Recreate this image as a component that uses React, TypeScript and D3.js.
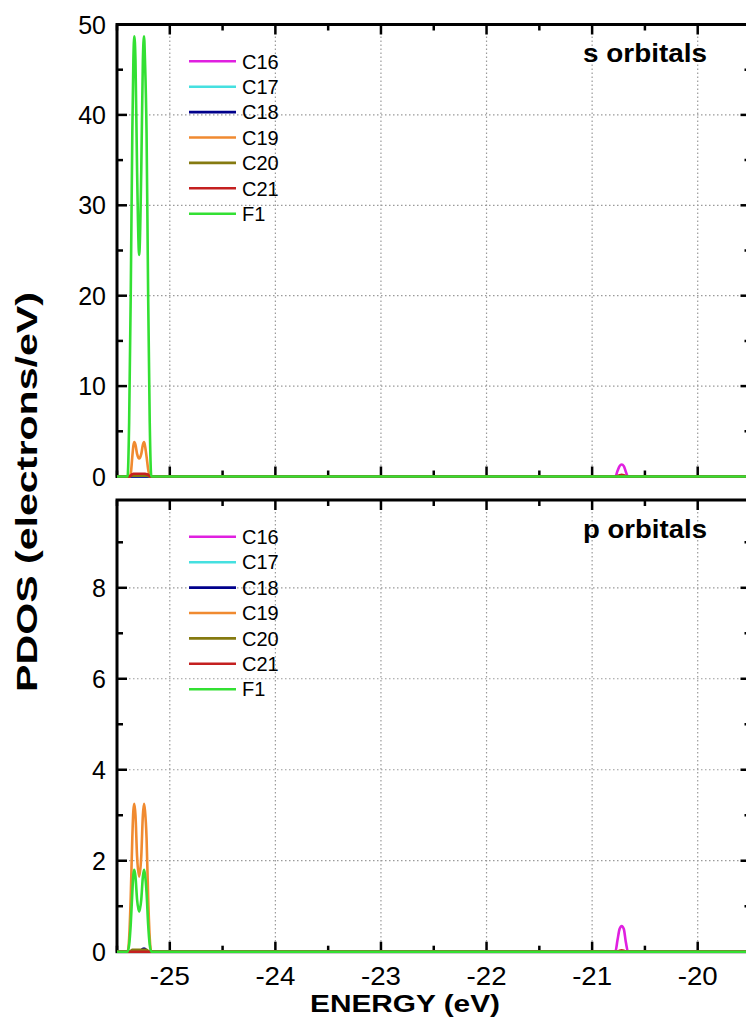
import React from "react";
import * as d3 from "d3";

// ---------- DATA ----------
const seriesNames = ["C16", "C17", "C18", "C19", "C20", "C21", "F1"];
const seriesColors = ["#e020e0", "#45e0e0", "#00008b", "#f08a30", "#857a10", "#c42020", "#33e033"];

const energy = [
  -25.5, -25.4, -25.385, -25.37, -25.355, -25.345, -25.336, -25.325, -25.31, -25.29,
  -25.27, -25.255, -25.244, -25.235, -25.22, -25.205, -25.19, -25.175, -25.16,
  -20.8, -20.78, -20.76, -20.74, -20.72, -20.7, -20.68, -20.66, -20.64, -19.5,
];

// s orbitals
const sC16 = [0,0,0,0,0,0,0,0,0,0, 0,0,0,0,0,0,0,0,0, 0,0,0.6,1.15,1.33,1.15,0.5,0,0,0];
const sC17 = [0,0,0,0,0,0,0,0,0,0, 0,0,0,0,0,0,0,0,0, 0,0,0,0,0,0,0,0,0,0];
const sC18 = [0,0,0,0,0,0,0,0,0,0, 0,0,0,0,0,0,0,0,0, 0,0,0,0,0,0,0,0,0,0];
const sC19 = [0,0,0,0.3,2.2,3.4,3.8,3.5,2.5,2.0, 2.5,3.5,3.8,3.4,2.2,0.8,0.1,0,0, 0,0,0,0.05,0.08,0.05,0,0,0,0];
const sC20 = [0,0,0,0.05,0.1,0.1,0.1,0.1,0.1,0.1, 0.1,0.1,0.1,0.1,0.1,0.05,0,0,0, 0,0,0,0,0,0,0,0,0,0];
const sC21 = [0,0,0,0.1,0.25,0.3,0.3,0.3,0.3,0.3, 0.3,0.3,0.3,0.3,0.25,0.2,0.05,0,0, 0,0,0.05,0.15,0.2,0.15,0.05,0,0,0];
const sF1 = [0,0,6,20,38,46,48.7,46,34,24.5, 34,46,48.7,46,38,20,6,0,0, 0,0,0,0,0,0,0,0,0,0];

// p orbitals
const pC16 = [0,0,0,0,0,0,0,0,0,0, 0,0,0,0,0,0,0,0,0, 0,0,0.25,0.5,0.565,0.5,0.2,0,0,0];
const pC17 = [0,0,0,0,0,0,0,0,0,0, 0,0,0,0,0,0,0,0,0, 0,0,0,0,0,0,0,0,0,0];
const pC18 = [0,0,0,0,0,0,0,0,0,0, 0.03,0.06,0.07,0.06,0.03,0,0,0,0, 0,0,0,0,0,0,0,0,0,0];
const pC19 = [0,0,0.3,1.2,2.5,3.1,3.25,3.0,2.1,1.65, 2.1,3.0,3.25,3.1,2.5,1.2,0.3,0,0, 0,0,0,0,0,0,0,0,0,0];
const pC20 = [0,0,0,0.02,0.04,0.04,0.04,0.04,0.04,0.04, 0.04,0.04,0.04,0.04,0.04,0.02,0,0,0, 0,0,0,0,0,0,0,0,0,0];
const pC21 = [0,0,0,0,0,0,0,0,0,0, 0,0,0,0,0,0,0,0,0, 0,0,0,0.02,0.03,0.02,0,0,0,0];
const pF1 = [0,0,0.15,0.6,1.3,1.7,1.8,1.65,1.15,0.88, 1.15,1.65,1.8,1.7,1.3,0.6,0.15,0,0, 0,0,0,0,0,0,0,0,0,0];

const xMajorTicks = [-25, -24, -23, -22, -21, -20];
const xMinorTicks = [-25.5, -24.5, -23.5, -22.5, -21.5, -20.5, -19.5];
const sYMajor = [0, 10, 20, 30, 40, 50];
const sYMinor = [5, 15, 25, 35, 45];
const pYMajor = [0, 2, 4, 6, 8];
const pYMinor = [1, 3, 5, 7, 9];

// ---------- LAYOUT ----------
const W = 746;
const H = 1023;
const xLeft = 117;
const xRight = 750.5;
const FONT = "'Liberation Sans', Arial, Helvetica, sans-serif";

const x = d3.scaleLinear().domain([-25.5, -19.5]).range([xLeft, xRight]);

const panels = [
  { label: "s orbitals", yMax: 50, top: 24.5, bottom: 476.5, major: sYMajor, minor: sYMinor,
    series: [sC16, sC17, sC18, sC19, sC20, sC21, sF1], showX: false },
  { label: "p orbitals", yMax: 9.93, top: 500, bottom: 951.7, major: pYMajor, minor: pYMinor,
    series: [pC16, pC17, pC18, pC19, pC20, pC21, pF1], showX: true },
];

function Panel({ p }: { p: typeof panels[number] }) {
  const y = d3.scaleLinear().domain([0, p.yMax]).range([p.bottom, p.top]);
  const line = d3
    .line<number>()
    .x((_, i) => x(energy[i]))
    .y((v) => y(v))
    .curve(d3.curveMonotoneX);
  const majLen = 10;
  const minLen = 6;
  const grid = "#9a9a9a";
  return (
    <g>
      {/* grid */}
      {xMajorTicks.map((t) => (
        <line key={"gx" + t} x1={x(t)} x2={x(t)} y1={p.top} y2={p.bottom} stroke={grid} strokeWidth={1.2} strokeDasharray="1.5,2.5" />
      ))}
      {p.major.filter((t) => t > 0).map((t) => (
        <line key={"gy" + t} x1={xLeft} x2={xRight} y1={y(t)} y2={y(t)} stroke={grid} strokeWidth={1.2} strokeDasharray="1.5,2.5" />
      ))}
      {/* ticks */}
      {xMajorTicks.map((t) => (
        <g key={"xt" + t}>
          <line x1={x(t)} x2={x(t)} y1={p.bottom} y2={p.bottom - majLen} stroke="#000" strokeWidth={2.5} />
          <line x1={x(t)} x2={x(t)} y1={p.top} y2={p.top + majLen} stroke="#000" strokeWidth={2.5} />
        </g>
      ))}
      {xMinorTicks.map((t) => (
        <g key={"xm" + t}>
          <line x1={x(t)} x2={x(t)} y1={p.bottom} y2={p.bottom - minLen} stroke="#000" strokeWidth={2.5} />
          <line x1={x(t)} x2={x(t)} y1={p.top} y2={p.top + minLen} stroke="#000" strokeWidth={2.5} />
        </g>
      ))}
      {p.major.map((t) => (
        <g key={"yt" + t}>
          <line x1={xLeft} x2={xLeft + majLen} y1={y(t)} y2={y(t)} stroke="#000" strokeWidth={2.5} />
          <line x1={xRight} x2={xRight - majLen} y1={y(t)} y2={y(t)} stroke="#000" strokeWidth={2.5} />
          <text x={106} y={y(t)} dy="0.36em" textAnchor="end" fontFamily={FONT} fontSize={25} fill="#000">
            {t}
          </text>
        </g>
      ))}
      {p.minor.map((t) => (
        <g key={"ym" + t}>
          <line x1={xLeft} x2={xLeft + minLen} y1={y(t)} y2={y(t)} stroke="#000" strokeWidth={2.5} />
          <line x1={xRight} x2={xRight - minLen} y1={y(t)} y2={y(t)} stroke="#000" strokeWidth={2.5} />
        </g>
      ))}
      {/* frame */}
      <rect x={xLeft} y={p.top} width={xRight - xLeft} height={p.bottom - p.top} fill="none" stroke="#000" strokeWidth={3} />
      {/* curves */}
      {p.series.map((s, i) => (
        <path key={"s" + i} d={line(s) || ""} fill="none" stroke={seriesColors[i]} strokeWidth={2.6} strokeLinejoin="round" />
      ))}
      {/* legend */}
      {seriesNames.map((n, i) => {
        const ly = p.top + 36.8 + i * 25.4;
        return (
          <g key={"lg" + n}>
            <line x1={189} x2={236} y1={ly} y2={ly} stroke={seriesColors[i]} strokeWidth={2.6} />
            <text x={242} y={ly} dy="0.36em" fontFamily={FONT} fontSize={20} fill="#000">
              {n}
            </text>
          </g>
        );
      })}
      <text x={583} y={p.top + 37.5} fontFamily={FONT} fontWeight="bold" fontSize={26} fill="#000" textLength={124} lengthAdjust="spacingAndGlyphs">
        {p.label}
      </text>
      {p.showX &&
        xMajorTicks.map((t) => (
          <text key={"xl" + t} x={x(t)} y={985} textAnchor="middle" fontFamily={FONT} fontSize={25} fill="#000" textLength={40} lengthAdjust="spacingAndGlyphs">
            {t}
          </text>
        ))}
    </g>
  );
}

export default function App() {
  return (
    <svg width={W} height={H} style={{ position: "absolute", left: 0, top: 0, background: "#fff" }}>
      <rect x={0} y={0} width={W} height={H} fill="#fff" />
      {panels.map((p, i) => (
        <Panel key={i} p={p} />
      ))}
      <text x={405} y={1012} textAnchor="middle" fontFamily={FONT} fontWeight="bold" fontSize={24} fill="#000" textLength={190} lengthAdjust="spacingAndGlyphs">
        ENERGY (eV)
      </text>
      <text transform="translate(37,492) rotate(-90)" textAnchor="middle" fontFamily={FONT} fontWeight="bold" fontSize={29} fill="#000" textLength={400} lengthAdjust="spacingAndGlyphs">
        PDOS (electrons/eV)
      </text>
    </svg>
  );
}
